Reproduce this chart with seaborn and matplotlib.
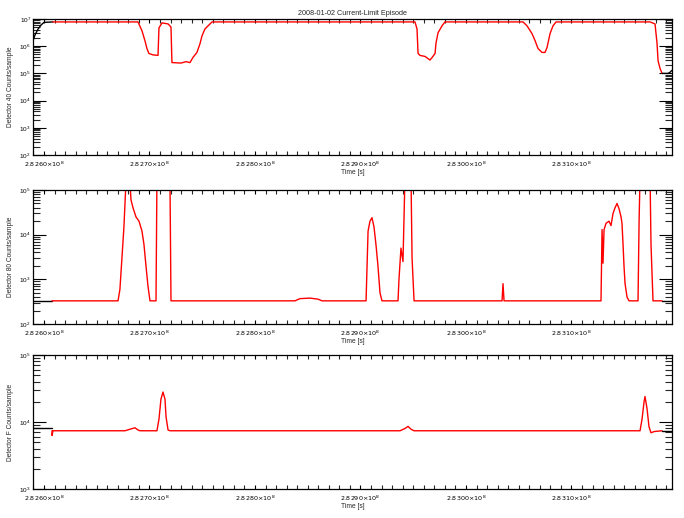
import matplotlib
matplotlib.use("Agg")
import numpy as np
import pandas as pd
import matplotlib.pyplot as plt
import matplotlib.ticker as mticker
import seaborn as sns

# ---------------- data (time in units of 1e4 s after 2.8260e8 s) ----------------
T0 = 2.8260e8
UNIT = 1.0e4
XLIM_U = [-1.04, 59.53]

title = "2008-01-02 Current-Limit Episode"
xlabel = "Time [s]"
ylabels = ["Detector 40 Counts/sample", "Detector 80 Counts/sample", "Detector F Counts/sample"]
ylims = [(1e2, 1e7), (1e2, 1e5), (1e3, 1e5)]

# Detector 40
d40_pre_t = [-1.04, -0.85, -0.57, -0.28, 0.00, 0.85]
d40_pre_v = [1.6e6, 2.6e6, 4.2e6, 6.0e6, 7.5e6, 7.8e6]
d40_ep_t = [0.85, 8.91, 9.29, 9.57, 9.76, 9.95, 10.33, 10.81, 10.90, 11.19, 11.76, 11.94,
            12.04, 12.13, 12.99, 13.46, 13.84, 14.13, 14.50, 14.79, 14.98, 15.26, 15.74, 15.93,
            35.17, 35.36, 35.46, 35.64, 36.12, 36.59, 36.78, 37.07, 37.16, 37.35, 37.73, 38.01,
            45.41, 45.79, 46.26, 46.55, 46.83, 47.21, 47.49, 47.68, 47.97, 48.25, 48.54,
            57.45, 57.92, 58.11, 58.21, 58.40, 58.59]
d40_ep_v = [7.8e6, 7.8e6, 3.7e6, 1.6e6, 8.2e5, 5.4e5, 4.8e5, 4.6e5, 4.7e6, 7.2e6, 6.6e6, 5.6e6,
            5.0e6, 2.5e5, 2.4e5, 2.7e5, 2.5e5, 3.9e5, 5.9e5, 1.24e6, 2.4e6, 4.3e6, 6.6e6, 7.8e6,
            7.8e6, 4.3e6, 5.4e5, 4.6e5, 4.2e5, 3.1e5, 3.8e5, 5.4e5, 1.3e6, 3.1e6, 5.6e6, 7.8e6,
            7.8e6, 5.6e6, 2.9e6, 1.6e6, 8.2e5, 5.9e5, 5.9e5, 8.8e5, 2.9e6, 5.6e6, 7.8e6,
            7.8e6, 6.6e6, 1.3e6, 2.9e5, 1.5e5, 1.0e5]
d40_post_t = [58.59, 59.16, 59.34, 59.53]
d40_post_v = [1.0e5, 1.0e5, 1.1e5, 1.3e5]

# Detector 80
d80_pre_t = [-1.04, 0.76]
d80_pre_v = [330, 330]
d80_ep_t = [0.76, 7.02, 7.20, 7.39, 7.58, 7.77, 8.15, 8.25, 8.44, 8.72, 9.01, 9.29, 9.48, 9.67,
            9.86, 10.05, 10.62, 10.71, 11.94, 12.04, 23.79, 24.27, 25.22, 25.98, 26.35,
            30.53, 30.72, 30.90, 31.09, 31.28, 31.47, 31.66, 31.85, 32.04,
            33.56, 33.65, 33.84, 34.03, 34.22, 34.79, 34.89, 35.08,
            43.42, 43.51, 43.61,
            52.80, 52.90, 52.99, 53.09, 53.28, 53.56, 53.75, 53.94, 54.13, 54.32, 54.51, 54.70,
            54.79, 54.89, 54.98, 55.08, 55.27, 55.46, 56.31, 56.41, 56.50, 57.45, 57.54, 57.73, 58.59]
d80_ep_v = [330, 330, 600, 3e3, 1.5e4, 1.5e5, 1.5e5, 6e4, 4e4, 2.5e4, 2e4, 1.2e4, 6e3, 2e3,
            700, 330, 330, 2e5, 2e5, 330, 330, 370, 380, 360, 330,
            330, 1.2e4, 2e4, 2.4e4, 1.5e4, 6e3, 2e3, 500, 330,
            330, 1e3, 5e3, 2.5e3, 2e5, 2e5, 3e3, 330,
            330, 800, 330,
            330, 1.3e4, 2.3e3, 1.3e4, 1.8e4, 2e4, 1.6e4, 3e4, 4e4, 5e4, 3.8e4, 2.5e4,
            1.8e4, 6e3, 2e3, 800, 400, 330, 330, 2e4, 2e5, 2e5, 6e3, 330, 330]
d80_post_t = [58.59, 59.53]
d80_post_v = [330, 330]

# Detector F
dF_pre_t = [-1.04, 0.76]
dF_pre_v = [8.1e3, 8.1e3]
dF_ep_t = [0.76, 0.77, 0.85, 7.68, 8.15, 8.63, 8.91, 9.10, 10.71, 10.90, 11.09, 11.28, 11.47,
           11.57, 11.76, 11.94, 33.75, 34.22, 34.51, 34.79, 35.08,
           56.50, 56.69, 56.88, 56.97, 57.16, 57.35, 57.54, 57.83, 58.59]
dF_ep_v = [7.4e3, 6.3e3, 7.4e3, 7.4e3, 7.8e3, 8.2e3, 7.6e3, 7.4e3, 7.4e3, 1.1e4, 2.2e4, 2.8e4, 2.2e4,
           1.2e4, 7.6e3, 7.4e3, 7.4e3, 8.0e3, 8.6e3, 7.8e3, 7.4e3,
           7.4e3, 1.1e4, 2.0e4, 2.4e4, 1.6e4, 8.5e3, 6.9e3, 7.2e3, 7.4e3]
dF_post_t = [58.59, 59.53]
dF_post_v = [7.4e3, 7.4e3]

panels = [
    [(d40_pre_t, d40_pre_v, "black"), (d40_ep_t, d40_ep_v, "red"), (d40_post_t, d40_post_v, "black")],
    [(d80_pre_t, d80_pre_v, "black"), (d80_ep_t, d80_ep_v, "red"), (d80_post_t, d80_post_v, "black")],
    [(dF_pre_t, dF_pre_v, "black"), (dF_ep_t, dF_ep_v, "red"), (dF_post_t, dF_post_v, "black")],
]

# ---------------- figure ----------------
sns.set_theme(style="white")
plt.rcParams["font.family"] = ["Liberation Sans", "DejaVu Sans"]
plt.rcParams["mathtext.fontset"] = "dejavusans"

W, H = 684, 518
fig = plt.figure(figsize=(W / 100, H / 100), dpi=100)
fig.patch.set_facecolor("white")

boxes = [(19, 155), (190, 324), (355, 489)]  # top, bottom in px
left_px, right_px = 33, 672
PX = 0.72  # points per pixel


def xfmt(v, pos):
    return r"$%.4f\!\times\!10^{8}$" % (v / 1e8)


axes = []
for i, ((top, bot), segs) in enumerate(zip(boxes, panels)):
    ax = fig.add_axes([left_px / W, 1 - bot / H, (right_px - left_px) / W, (bot - top) / H])
    axes.append(ax)
    for t, v, c in segs:
        df = pd.DataFrame({"time": T0 + np.array(t) * UNIT, "counts": v})
        sns.lineplot(data=df, x="time", y="counts", color=c, lw=1.0, ax=ax,
                     estimator=None, sort=False, legend=False)
    ax.set_yscale("log")
    ax.set_ylim(*ylims[i])
    ax.set_xlim(T0 + XLIM_U[0] * UNIT, T0 + XLIM_U[1] * UNIT)
    ax.xaxis.set_major_locator(mticker.MultipleLocator(1e5))
    ax.xaxis.set_minor_locator(mticker.MultipleLocator(1e4))
    ax.xaxis.set_major_formatter(mticker.FuncFormatter(xfmt))
    ax.yaxis.set_major_locator(mticker.LogLocator(base=10, numticks=10))
    ax.yaxis.set_minor_locator(mticker.LogLocator(base=10, subs=np.arange(2, 10), numticks=20))
    ax.yaxis.set_minor_formatter(mticker.NullFormatter())
    ax.tick_params(axis="x", which="major", direction="in", length=4 * PX, width=0.8,
                   top=True, bottom=True, labelsize=4.6, pad=3.4, colors="black")
    ax.tick_params(axis="x", which="minor", direction="in", length=4 * PX, width=0.8,
                   top=True, bottom=True)
    ax.tick_params(axis="y", which="major", direction="in", length=13 * PX, width=0.8,
                   left=True, right=True, labelsize=4.6, pad=1.5, colors="black")
    ax.tick_params(axis="y", which="minor", direction="in", length=7 * PX, width=0.8,
                   left=True, right=True)
    for s in ax.spines.values():
        s.set_visible(True)
        s.set_color("black")
        s.set_linewidth(0.9)
    ax.set_xlabel(xlabel, fontsize=4.8, labelpad=0.0)
    ax.set_ylabel(ylabels[i], fontsize=4.8, labelpad=4)
    ax.set_facecolor("white")
    ax.grid(False)

axes[0].set_title(title, fontsize=5.2, pad=3)

fig.savefig("out.png", dpi=100)
